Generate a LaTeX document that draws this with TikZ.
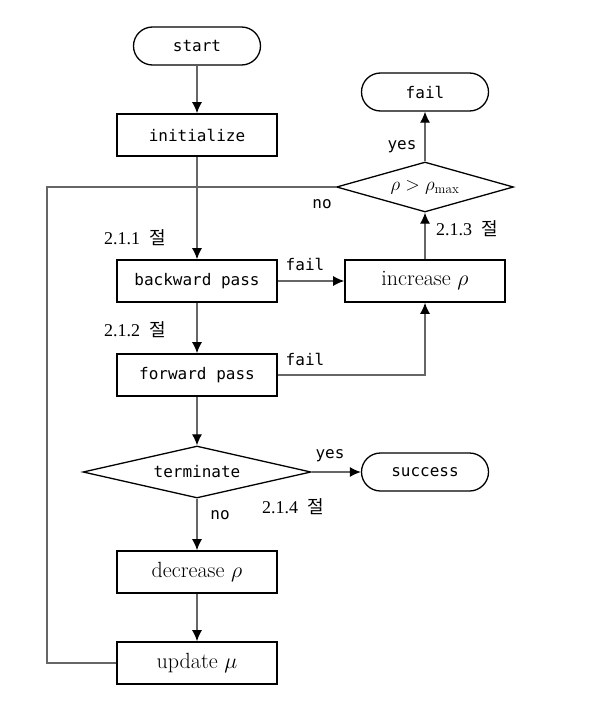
\RequirePackage{fix-cm}
\documentclass[tikz,border=0pt]{standalone}
\usepackage{fontspec}
\setmonofont{DejaVu Sans Mono}
\newfontfamily\krfont{Noto Sans CJK KR}
\newfontfamily\numfont{Liberation Serif}
\usetikzlibrary{positioning,shapes,arrows.meta}

\begin{document}
\begin{tikzpicture}[x=1pt,y=-1pt,
                    term/.style={draw,line width=1.3pt,rounded corners=19pt,minimum width=127pt,minimum height=38pt,font=\ttfamily\fontsize{16}{18}\selectfont},
                    box/.style={draw,line width=1.6pt,minimum width=160pt,minimum height=42pt},
                    ttbox/.style={box,font=\ttfamily\fontsize{16}{18}\selectfont},
                    rmbox/.style={box,font=\fontsize{22}{26}\selectfont},
                    decide/.style={diamond,draw,line width=1.3pt,inner sep=0pt},
                    line/.style={draw,black!60,line width=1.2pt},
                    arr/.style={line,-{Latex[length=11pt,width=10pt,color=black]}},
                    lab/.style={font=\ttfamily\fontsize{16}{18}\selectfont},
                    sec/.style={font=\numfont\fontsize{18}{20}\selectfont}]
                \useasboundingbox (0,0) rectangle (596,701);
                % main column
                \node[term] (start) at (197,46) {start};
                \node[ttbox] (init) at (197,135) {initialize};
                \node[ttbox] (back) at (197,281) {backward pass};
                \node[ttbox] (fwd) at (197,375) {forward pass};
                \node[decide,aspect=4.4,minimum width=228pt,minimum height=52pt,font=\ttfamily\fontsize{16}{18}\selectfont] (term) at (197,472) {terminate};
                \node[rmbox] (dec) at (197,572) {decrease $\rho$};
                \node[rmbox] (upd) at (197,663) {update $\mu$};
                % right column
                \node[term] (fail) at (425,92) {fail};
                \node[decide,aspect=3.54,minimum width=177pt,minimum height=50pt,font=\fontsize{19}{21}\selectfont] (rho) at (425,187) {$\rho > \rho_{\max}$};
                \node[rmbox] (inc) at (425,281) {increase $\rho$};
                \node[term] (succ) at (425,472) {success};
                \coordinate (loop) at (47,187);
                % connectors
                \draw[arr] (start) -- (init);
                \draw[arr] (init) -- (back);
                \draw[arr] (back) -- (fwd);
                \draw[arr] (fwd) -- (term);
                \draw[arr] (term) -- (dec);
                \draw[arr] (dec) -- (upd);
                \draw[arr] (term) -- (succ);
                \draw[arr] (back) -- (inc);
                \draw[arr] (fwd) -| (inc);
                \draw[arr] (inc) -- (rho);
                \draw[arr] (rho) -- (fail);
                \draw[line] (upd.west) -| (loop) -- (rho.west);
                % labels
                \node[lab] (f1) at (305,264) {fail};
                \node[lab] (f2) at (305,359) {fail};
                \node[lab] (y1) at (402,147) {yes};
                \node[lab] (n1) at (322,204) {no};
                \node[lab] (y2) at (330,456) {yes};
                \node[lab] (n2) at (220,515) {no};
                \node[sec] (s1) at (135,238) {2.1.1\hspace{0.5em}{\krfont 절}};
                \node[sec] (s2) at (135,330) {2.1.2\hspace{0.5em}{\krfont 절}};
                \node[sec] (s3) at (467,229) {2.1.3\hspace{0.5em}{\krfont 절}};
                \node[sec] (s4) at (293,507) {2.1.4\hspace{0.5em}{\krfont 절}};
\end{tikzpicture}
\end{document}
